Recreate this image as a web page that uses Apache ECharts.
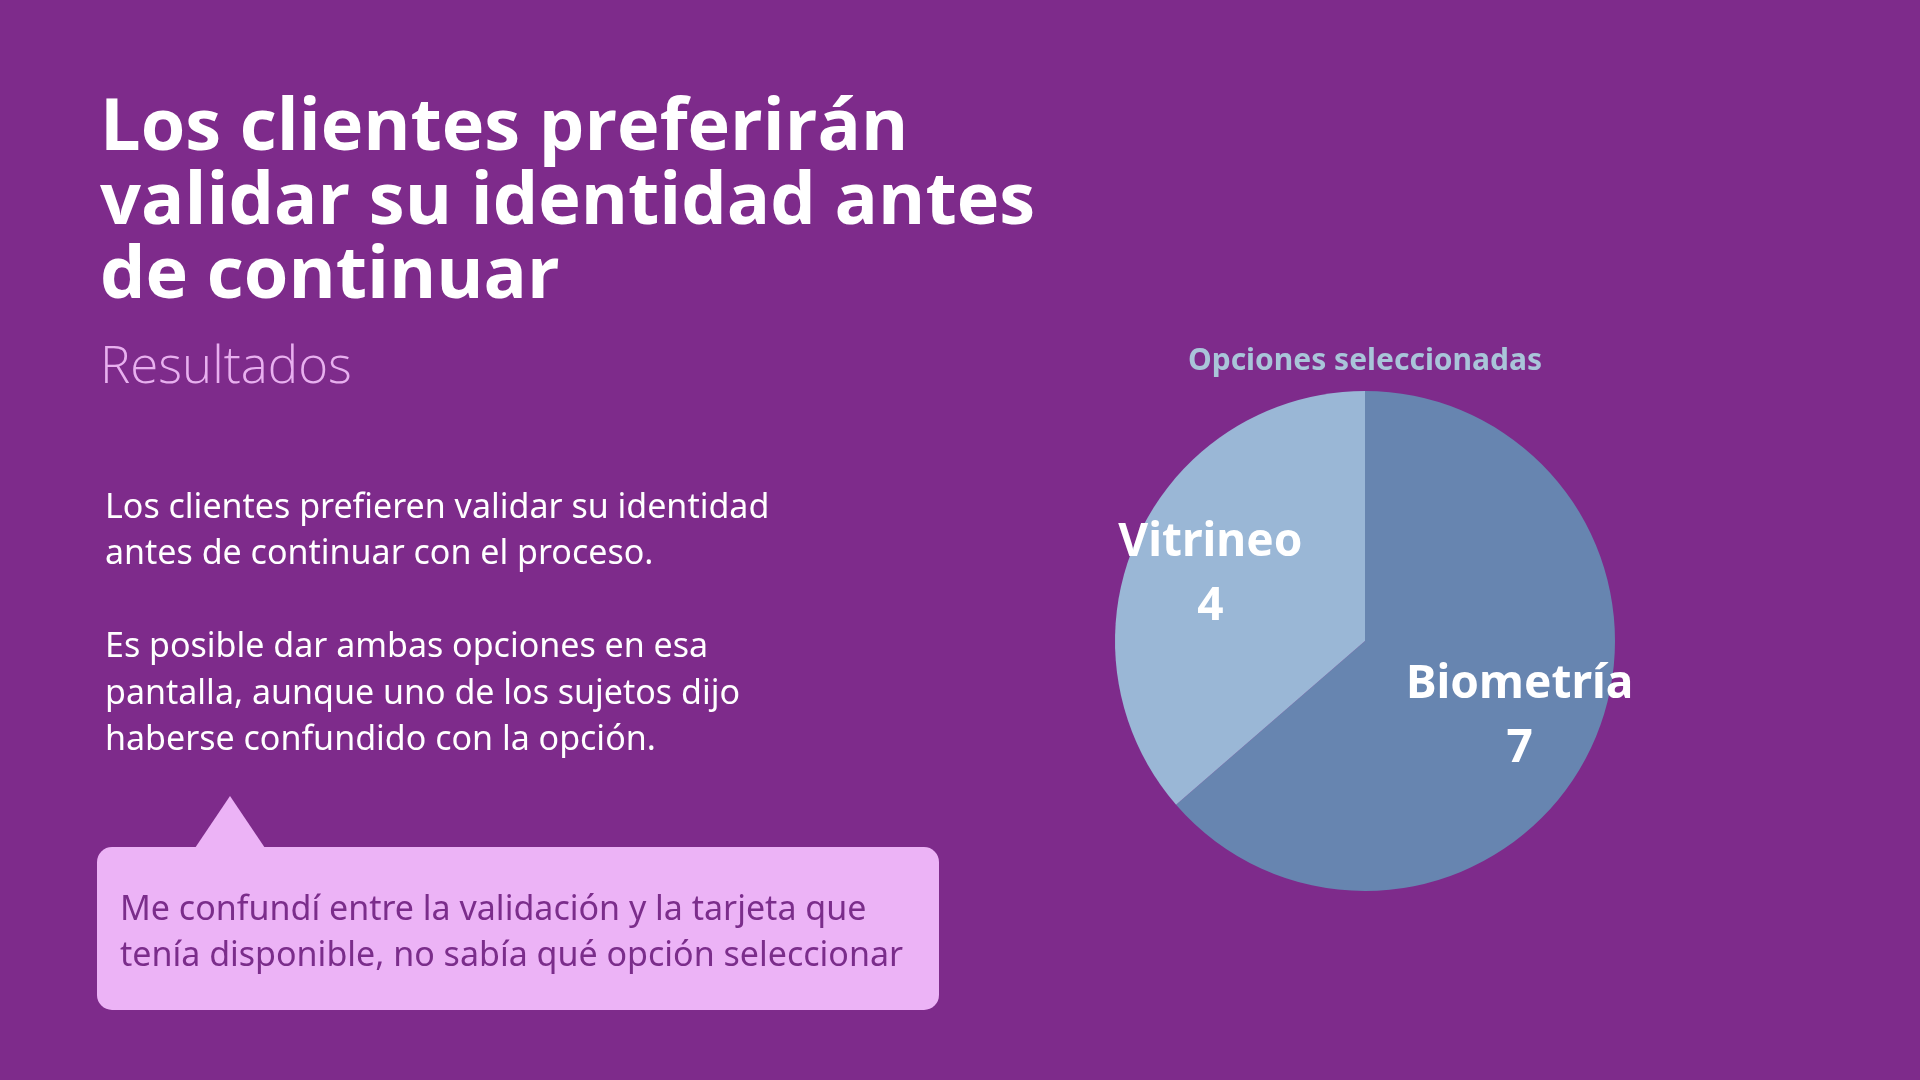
<!DOCTYPE html>
<html>
<head>
<meta charset="utf-8">
<script src="https://cdn.jsdelivr.net/npm/echarts@6/dist/echarts.min.js"></script>
<style>
html,body{margin:0;padding:0;background:#7e2b8b;}
#c{width:1920px;height:1080px;}
</style>
</head>
<body>
<div id="c"></div>
<script>
const categories = ['Biometría', 'Vitrineo'];
const values = [7, 4];
const sliceColors = ['#6785b0', '#9ab7d6'];
const titleLines = ['Los clientes preferirán', 'validar su identidad antes', 'de continuar'];
const subtitle = 'Resultados';
const bodyText = 'Los clientes prefieren validar su identidad\nantes de continuar con el proceso.\n\nEs posible dar ambas opciones en esa\npantalla, aunque uno de los sujetos dijo\nhaberse confundido con la opción.';
const quoteText = 'Me confundí entre la validación y la tarjeta que\ntenía disponible, no sabía qué opción seleccionar';
const chartTitle = 'Opciones seleccionadas';

const chart = echarts.init(document.getElementById('c'), null, {renderer: 'canvas'});
const pieData = categories.map((n, i) => ({name: n, value: values[i], itemStyle: {color: sliceColors[i]}}));

chart.setOption({
  backgroundColor: '#7e2b8b',
  animation: false,
  series: [
    {
      type: 'pie',
      center: [1365, 641],
      radius: [0, 250],
      startAngle: 90,
      clockwise: true,
      silent: true,
      label: {show: false},
      labelLine: {show: false},
      data: pieData
    },
    {
      type: 'pie',
      center: [1365, 641],
      radius: [84, 250],
      startAngle: 90,
      clockwise: true,
      silent: true,
      itemStyle: {color: 'rgba(0,0,0,0)'},
      label: {
        show: true,
        position: 'inside',
        formatter: '{b}\n{c}',
        color: '#ffffff',
        fontFamily: 'Noto Sans',
        fontWeight: 'bold',
        fontSize: 46,
        lineHeight: 64,
        offset: [0, 5]
      },
      labelLine: {show: false},
      data: categories.map((n, i) => ({name: n, value: values[i]}))
    }
  ],
  graphic: [
    {
      type: 'text', left: 100, top: 92,
      style: {
        text: titleLines.join('\n'),
        fill: '#ffffff',
        font: 'bold 72px "Open Sans"',
        lineHeight: 74
      }
    },
    {
      type: 'text', left: 100, top: 343,
      style: {
        text: subtitle,
        fill: '#e8b0ef',
        font: '300 51px "Open Sans"'
      }
    },
    {
      type: 'text', left: 105, top: 485,
      style: {
        text: bodyText,
        fill: '#ffffff',
        font: '34px "Noto Sans"',
        lineHeight: 46.5
      }
    },
    {
      type: 'polygon',
      shape: {points: [[195, 848], [230, 796], [265, 848]]},
      style: {fill: '#ecb3f6'}
    },
    {
      type: 'rect',
      shape: {x: 97, y: 847, width: 842, height: 163, r: 15},
      style: {fill: '#ecb3f6'}
    },
    {
      type: 'text', left: 120, top: 887,
      style: {
        text: quoteText,
        fill: '#7b2d8b',
        font: '34px "Noto Sans"',
        lineHeight: 46.5
      }
    },
    {
      type: 'text', x: 1365, y: 361,
      style: {
        text: chartTitle,
        fill: '#a9c5d9',
        font: 'bold 30px "Noto Sans"',
        textAlign: 'center',
        textVerticalAlign: 'middle'
      }
    }
  ]
});
</script>
</body>
</html>
